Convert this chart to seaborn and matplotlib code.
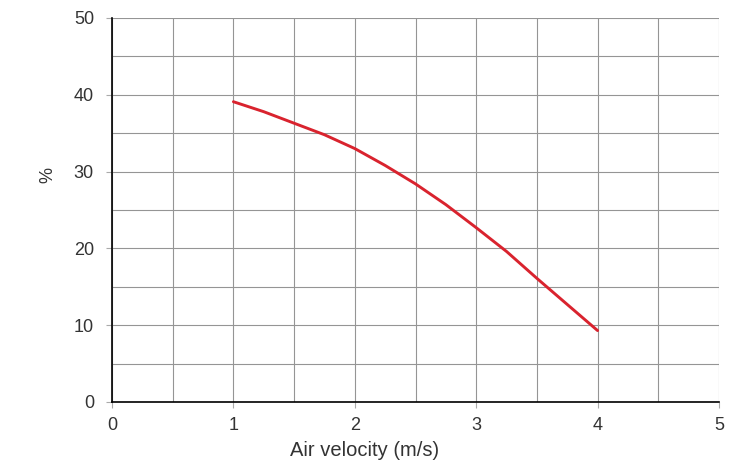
import matplotlib
matplotlib.use("Agg")
import matplotlib.pyplot as plt
import seaborn as sns
import pandas as pd
from matplotlib.ticker import MultipleLocator

velocity = [1.0, 1.25, 1.5, 1.75, 2.0, 2.25, 2.5, 2.75, 3.0, 3.25, 3.5, 3.75, 4.0]
percent = [39.1, 37.8, 36.3, 34.8, 33.0, 30.8, 28.4, 25.7, 22.7, 19.6, 16.1, 12.7, 9.3]
x_ticks = [0, 1, 2, 3, 4, 5]
y_ticks = [0, 10, 20, 30, 40, 50]
x_label = "Air velocity (m/s)"
y_label = "%"

sns.set_style("white")
plt.rcParams['font.family'] = ['Liberation Sans', 'DejaVu Sans']

df = pd.DataFrame({"v": velocity, "p": percent})

fig = plt.figure(figsize=(7.34, 4.68), dpi=100)
ax = fig.add_axes([112/734, 1-402/468, (719-112)/734, (402-18)/468])

sns.lineplot(data=df, x="v", y="p", ax=ax, color="#d9232e", linewidth=2.1)

ax.set_xlim(0, 5)
ax.set_ylim(0, 50)
ax.set_xticks(x_ticks)
ax.set_yticks(y_ticks)
ax.xaxis.set_minor_locator(MultipleLocator(0.5))
ax.yaxis.set_minor_locator(MultipleLocator(5))
ax.grid(True, which="both", color="#959595", linewidth=0.8)
ax.set_axisbelow(True)

for s in ["top", "right"]:
    ax.spines[s].set_visible(False)
for s in ["left", "bottom"]:
    ax.spines[s].set_color("black")
    ax.spines[s].set_linewidth(1.2)
    ax.spines[s].set_zorder(3)

ax.tick_params(axis="both", which="major", direction="out", length=4.5, width=0.8,
               color="#aaaaaa", labelsize=13, labelcolor="#333333",
               left=True, bottom=True)
ax.tick_params(axis="x", which="major", pad=6)
ax.tick_params(axis="y", which="major", pad=8.5)
ax.tick_params(axis="both", which="minor", length=0)

ax.set_xlabel(x_label, fontsize=14.5, color="#333333")
ax.xaxis.set_label_coords((365-112)/607, (402-456)/384)
ax.xaxis.label.set_va("baseline")
ax.set_ylabel(y_label, fontsize=13, color="#333333")
ax.yaxis.set_label_coords((48-112)/607, (402-175)/384)
ax.yaxis.label.set_va("center")

fig.savefig("out.png", dpi=100)
